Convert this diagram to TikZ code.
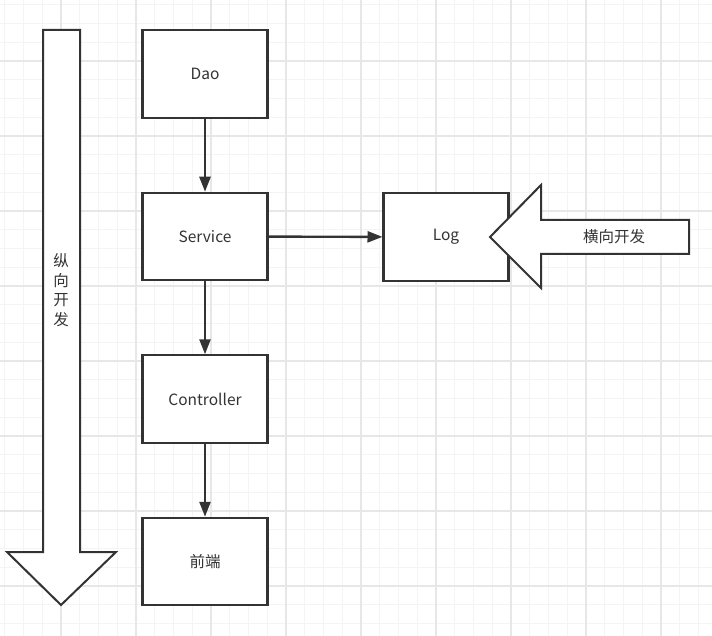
\documentclass[tikz,border=0pt]{standalone}
\usepackage{fontspec}
\setmainfont{Noto Sans CJK SC}
\usetikzlibrary{positioning,calc}
\usetikzlibrary{arrows.meta}
\definecolor{InkGray}{RGB}{51,51,51}
\definecolor{MinorLine}{RGB}{244,244,244}
\definecolor{MajorLine}{RGB}{231,231,231}
\tikzset{
	layer/.style={draw=InkGray,fill=white,line width=2.4pt,minimum width=125pt,
		minimum height=87.5pt,inner sep=0pt,outer sep=0pt,text=InkGray,font=\fontsize{15.5}{18}\selectfont},
	flow/.style={draw=InkGray,line width=2.4pt,-{Triangle[length=15pt,width=11pt]},shorten >=1pt},
	bigarrow/.style={draw=InkGray,fill=white,line width=2pt,line join=miter},
	minorgrid/.style={draw=MinorLine,line width=1pt},
	majorgrid/.style={draw=MajorLine,line width=1.2pt},
}

\begin{document}
\begin{tikzpicture}[x=1pt,y=-1pt]
			\useasboundingbox (0,0) rectangle (712,636);
			% grid
			\foreach \i in {0,...,37}
			\draw[minorgrid] ({4.75+18.75*\i},0)--++(0,636);
			\foreach \i in {0,...,33}
			\draw[minorgrid] (0,{4.75+18.75*\i})--++(712,0);
			\foreach \i in {0,...,8}
			\draw[majorgrid] ({61+75*\i},0)--++(0,636);
			\foreach \i in {0,...,7}
			\draw[majorgrid] (0,{61+75*\i})--++(712,0);
			% layers
			\node[layer] (dao) at (205,74) {Dao};
			\node[layer,below=75pt of dao] (service) {Service};
			\node[layer,below=75pt of service] (controller) {Controller};
			\node[layer,below=75pt of controller] (front) {前端};
			\node[layer] (log) at (446,237) {Log};
			\foreach \x/\y in {dao/service,service/controller,controller/front,service/log}
			\draw[flow] (\x)--(\y);
			% vertical development
			\draw[bigarrow] (43,30)--(80,30)--(80,552)--(116,552)--(61,605)--(7,552)--(43,552)--cycle;
			\node[text=InkGray,align=center,font=\fontsize{15.5}{19.5}\selectfont] (vdev) at (61,290) {纵\\向\\开\\发};
			% horizontal development
			\draw[bigarrow] (689,220)--(541,220)--(541,185)--(490,237)--(541,288)--(541,254)--(689,254)--cycle;
			\node[text=InkGray,font=\fontsize{15.5}{18}\selectfont] (hdev) at (614,237) {横向开发};
		\end{tikzpicture}
\end{document}
